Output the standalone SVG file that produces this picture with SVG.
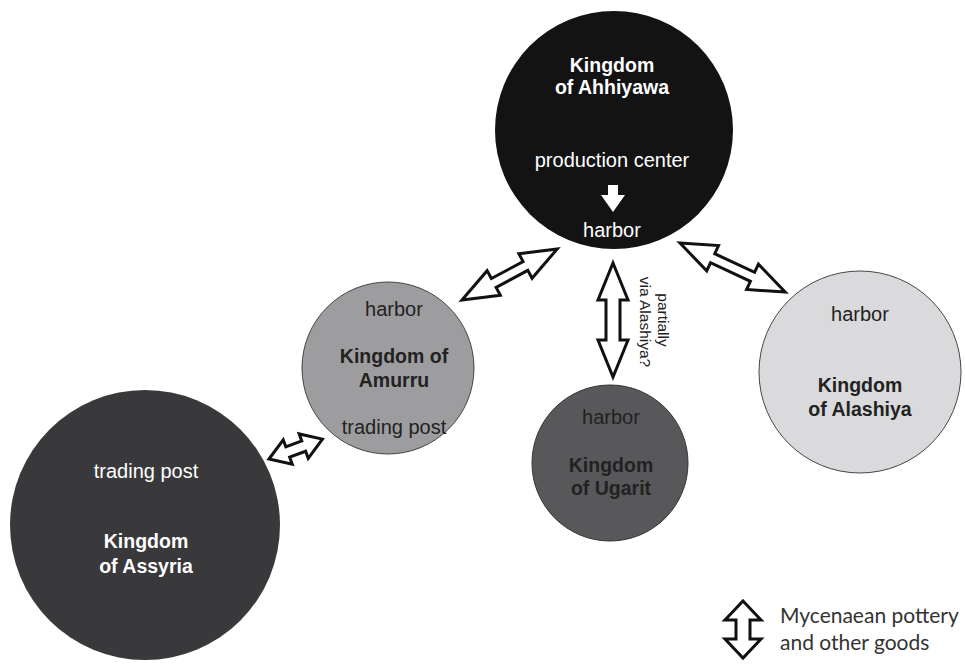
<svg xmlns="http://www.w3.org/2000/svg" width="965" height="666" viewBox="0 0 965 666">
<style>
.lbl{font-family:"Liberation Sans",Arial,sans-serif;font-size:20px;text-anchor:middle}
.b{font-weight:bold;font-size:19.5px}
.w{fill:#ffffff}
.d{fill:#222222}
.arr{fill:#ffffff;stroke:#111111;stroke-width:3;stroke-linejoin:miter}
.leg{font-family:Lato,"Open Sans",sans-serif;font-size:21px;fill:#333333}
.rot{font-family:"Liberation Sans",Arial,sans-serif;font-size:15.5px;text-anchor:middle;fill:#222222}
</style>
<rect width="965" height="666" fill="#ffffff"/>
<g id="assyria">
<circle cx="145" cy="525" r="135" fill="#39393b"/>
<text class="lbl w" x="146" y="478">trading post</text>
<text class="lbl b w" x="146" y="548">Kingdom</text>
<text class="lbl b w" x="146" y="573">of Assyria</text>
</g>
<g id="amurru">
<circle cx="388" cy="368" r="86" fill="#9d9d9f" stroke="#444" stroke-width="1"/>
<text class="lbl d" x="394" y="316">harbor</text>
<text class="lbl b d" x="394" y="363">Kingdom of</text>
<text class="lbl b d" x="394" y="387">Amurru</text>
<text class="lbl d" x="394" y="434">trading post</text>
</g>
<g id="ahhiyawa">
<circle cx="614" cy="130" r="119" fill="#131313"/>
<text class="lbl b w" x="612" y="72">Kingdom</text>
<text class="lbl b w" x="612" y="94">of Ahhiyawa</text>
<text class="lbl w" x="612" y="167">production center</text>
<polygon points="608,185 618,185 618,195 625,195 613,212 601,195 608,195" fill="#ffffff"/>
<text class="lbl w" x="612" y="237">harbor</text>
</g>
<g id="ugarit">
<circle cx="610" cy="463" r="78" fill="#58585b" stroke="#333" stroke-width="1"/>
<text class="lbl d" x="611" y="424">harbor</text>
<text class="lbl b d" x="611" y="472">Kingdom</text>
<text class="lbl b d" x="611" y="495">of Ugarit</text>
</g>
<g id="alashiya">
<circle cx="860" cy="372" r="101" fill="#dadadc" stroke="#444" stroke-width="1"/>
<text class="lbl d" x="860" y="321">harbor</text>
<text class="lbl b d" x="860" y="392">Kingdom</text>
<text class="lbl b d" x="860" y="416">of Alashiya</text>
</g>
<g id="connectors">
<path class="arr" transform="translate(462,300) rotate(-28.2)" d="M0,0 L36,-14 L36,-5 L72,-5 L72,-14 L108,0 L72,14 L72,5 L36,5 L36,14 Z"/>
<path class="arr" transform="translate(680,243) rotate(25)" d="M0,0 L36,-14 L36,-5 L80,-5 L80,-14 L116,0 L80,14 L80,5 L36,5 L36,14 Z"/>
<path class="arr" transform="translate(613,263) rotate(90)" d="M0,0 L37,-15 L37,-7 L77,-7 L77,-15 L114,0 L77,15 L77,7 L37,7 L37,15 Z"/>
<path class="arr" transform="translate(269,459) rotate(-20.4)" d="M0,0 L20,-13 L20,-5.5 L37,-5.5 L37,-13 L57,0 L37,13 L37,5.5 L20,5.5 L20,13 Z"/>
<text class="rot" transform="translate(658,320) rotate(90)" x="0" y="0">partially</text>
<text class="rot" transform="translate(640,322) rotate(90)" x="0" y="0">via Alashiya?</text>
</g>
<g id="legend">
<path class="arr" transform="translate(743,601) rotate(90)" d="M0,0 L19,-18 L19,-7 L38,-7 L38,-18 L57,0 L38,18 L38,7 L19,7 L19,18 Z"/>
<text class="leg" x="780" y="623">Mycenaean pottery</text>
<text class="leg" x="780" y="650">and other goods</text>
</g>
</svg>
